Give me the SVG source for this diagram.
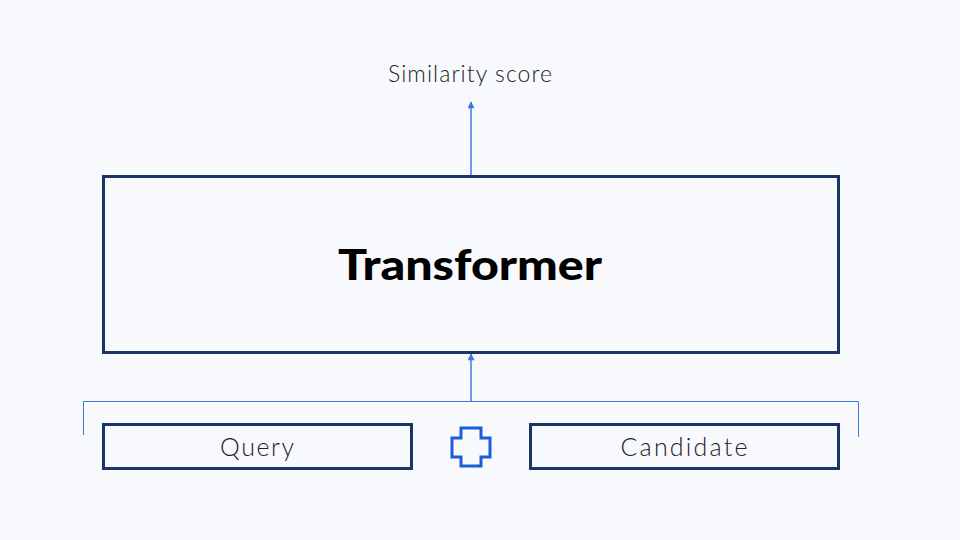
<svg xmlns="http://www.w3.org/2000/svg" width="960" height="540" viewBox="0 0 960 540">
<defs>
<marker id="ah" viewBox="0 0 10 10" refX="9" refY="5" markerWidth="8" markerHeight="7" orient="auto" markerUnits="userSpaceOnUse">
<path d="M0,0 L10,5 L0,10 z" fill="#3A7BE0"/>
</marker>
<style>
.box{fill:none;stroke:#1A3563;stroke-width:3}
.lbl{font-family:Lato,"Open Sans",sans-serif;font-weight:300;fill:#222;text-anchor:middle}
.conn{stroke:#3A7BE0;stroke-width:1.5;fill:none}
</style>
</defs>
<rect width="960" height="540" fill="#F8F9FD"/>
<g id="score"><text class="lbl" x="470" y="82" font-size="23" textLength="164" lengthAdjust="spacing">Similarity score</text></g>
<g id="transformer">
<rect class="box" x="103.5" y="176.5" width="735" height="176"/>
<text x="470" y="280" font-family="Lato,Inter,sans-serif" font-weight="900" font-size="42" fill="#000" text-anchor="middle" textLength="264" lengthAdjust="spacingAndGlyphs">Transformer</text>
</g>
<g id="query">
<rect class="box" x="103.5" y="424.5" width="308" height="44"/>
<text class="lbl" x="257" y="456" font-size="25" textLength="74" lengthAdjust="spacing">Query</text>
</g>
<g id="candidate">
<rect class="box" x="530.5" y="424.5" width="308" height="44"/>
<text class="lbl" x="684" y="456" font-size="25" textLength="127" lengthAdjust="spacing">Candidate</text>
</g>
<g id="plus">
<path d="M461,428 H481 V438 H490 V457 H481 V466 H461 V457 H452 V438 H461 Z" fill="none" stroke="#1A5FD8" stroke-width="3"/>
</g>
<g id="connectors">
<line class="conn" x1="471" y1="175" x2="471" y2="102" marker-end="url(#ah)"/>
<line class="conn" x1="471" y1="401" x2="471" y2="354" marker-end="url(#ah)"/>
<path d="M83.5,435 V401.5 H858.5 V437" fill="none" stroke="#3A7BE0" stroke-width="1"/>
</g>
</svg>
